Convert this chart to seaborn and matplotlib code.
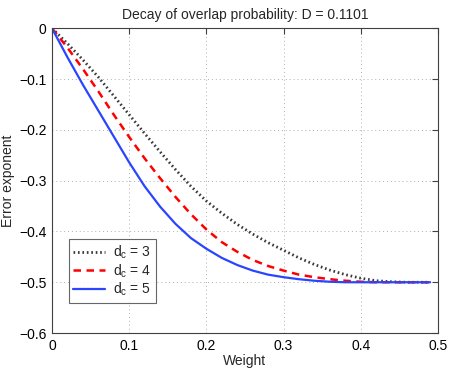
import numpy as np
import pandas as pd
import matplotlib
matplotlib.use("Agg")
import matplotlib.pyplot as plt
import seaborn as sns

weight = [0.00, 0.02, 0.04, 0.06, 0.08, 0.10, 0.12, 0.14, 0.16, 0.18, 0.20,
          0.22, 0.24, 0.26, 0.28, 0.30, 0.32, 0.34, 0.36, 0.38, 0.40, 0.42,
          0.44, 0.46, 0.48, 0.49]
dc3 = [0.000, -0.030, -0.062, -0.096, -0.133, -0.170, -0.207, -0.243, -0.278,
       -0.311, -0.340, -0.364, -0.386, -0.405, -0.422, -0.437, -0.452, -0.465,
       -0.476, -0.485, -0.492, -0.497, -0.499, -0.500, -0.500, -0.500]
dc4 = [0.000, -0.038, -0.080, -0.124, -0.170, -0.214, -0.256, -0.295, -0.332,
       -0.366, -0.396, -0.421, -0.440, -0.456, -0.468, -0.477, -0.485, -0.490,
       -0.494, -0.497, -0.499, -0.500, -0.500, -0.500, -0.500, -0.500]
dc5 = [0.000, -0.057, -0.111, -0.162, -0.213, -0.264, -0.311, -0.351, -0.385,
       -0.413, -0.434, -0.452, -0.466, -0.477, -0.485, -0.490, -0.494, -0.497,
       -0.499, -0.500, -0.500, -0.500, -0.500, -0.500, -0.500, -0.500]
labels = [r"d$_\mathregular{c}$ = 3", r"d$_\mathregular{c}$ = 4", r"d$_\mathregular{c}$ = 5"]
xticks = [0, 0.1, 0.2, 0.3, 0.4, 0.5]
yticks = [0, -0.1, -0.2, -0.3, -0.4, -0.5, -0.6]

sns.set_theme(style="white")
plt.rcParams['font.family'] = ['Liberation Sans', 'DejaVu Sans']
plt.rcParams['mathtext.fontset'] = 'custom'
plt.rcParams['mathtext.rm'] = 'Liberation Sans'
plt.rcParams['mathtext.it'] = 'Liberation Sans'

FS = 10

fig = plt.figure(figsize=(4.5, 3.68), dpi=100)
ax = fig.add_axes([0.1156, 0.095, 0.8574, 0.828])

styles = [
    dict(color="#3a3a3a", linestyle=(0, (0.6, 1.0)), linewidth=2.0),
    dict(color="#ff0000", linestyle=(0, (3.0, 2.2)), linewidth=1.8),
    dict(color="#2a45ff", linestyle="-", linewidth=1.6),
]
for vals, lab, st in zip([dc3, dc4, dc5], labels, styles):
    sns.lineplot(x=weight, y=vals, ax=ax, label=lab, **st)

ax.set_xlim(0, 0.5)
ax.set_ylim(-0.6, 0)
ax.set_xticks(xticks)
ax.set_yticks(yticks)
ax.set_xticklabels(["0", "0.1", "0.2", "0.3", "0.4", "0.5"])
ax.set_yticklabels(["0", "\u22120.1", "\u22120.2", "\u22120.3", "\u22120.4", "\u22120.5", "\u22120.6"])
ax.grid(True, linestyle=(0, (1, 3)), color="#b0b0b0", linewidth=0.7)
ax.tick_params(direction="in", length=4, width=0.8, top=True, right=True,
               labelsize=FS, colors="#404040", labelcolor="black", pad=4)
for s in ax.spines.values():
    s.set_color("#404040")
    s.set_linewidth(0.8)
ax.set_xlabel("Weight", fontsize=FS, labelpad=1)
ax.set_ylabel("Error exponent", fontsize=FS, labelpad=3)
ax.set_title("Decay of overlap probability: D = 0.1101", fontsize=FS, pad=7)

leg = ax.legend(loc="lower left", bbox_to_anchor=(0.044, 0.10), fontsize=FS,
                frameon=True, fancybox=False, handlelength=2.3,
                borderpad=0.3, labelspacing=0.1, handletextpad=0.6,
                borderaxespad=0)
leg.get_frame().set_edgecolor("#404040")
leg.get_frame().set_linewidth(0.8)

fig.savefig("out.png", dpi=100)
